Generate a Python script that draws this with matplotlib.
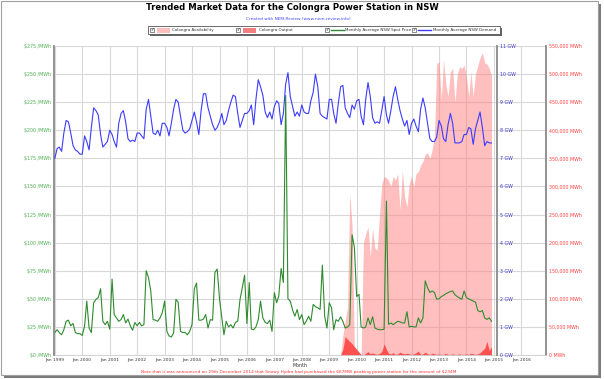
import matplotlib
matplotlib.use("Agg")
import matplotlib.pyplot as plt
import matplotlib.dates as mdates
from matplotlib.patches import Rectangle
from matplotlib.lines import Line2D
from matplotlib.ticker import FuncFormatter, MultipleLocator
import numpy as np
import pandas as pd

# monthly data, Jan 1999 .. Dec 2014
months = pd.date_range("1999-01-01", "2014-12-01", freq="MS")

demand_gw = [
    7.0, 7.35, 7.4, 7.25, 7.9, 8.35, 8.3, 7.9, 7.45, 7.3, 7.25, 7.15,
    7.15, 7.8, 7.6, 7.3, 8.1, 8.8, 8.7, 8.55, 7.85, 7.4, 7.5, 7.6,
    8.0, 7.85, 7.6, 7.4, 8.25, 8.6, 8.7, 8.3, 7.7, 7.6, 7.65, 7.6,
    7.9, 7.9, 7.8, 7.7, 8.75, 9.1, 8.5, 7.9, 7.85, 8.0, 7.8, 8.25,
    8.25, 8.1, 7.8, 8.25, 8.75, 9.1, 9.0, 8.5, 8.0, 7.9, 7.95, 8.05,
    8.35, 8.65, 8.3, 7.85, 8.7, 9.3, 9.3, 8.8, 8.5, 8.2, 8.0, 8.1,
    8.3, 8.6, 8.2, 8.35, 8.7, 9.0, 9.25, 9.2, 8.6, 8.1, 8.35, 8.6,
    8.6, 8.7, 8.9, 8.2, 9.1, 9.8, 9.55, 9.25, 8.65, 8.45, 8.65, 8.4,
    8.85, 9.05, 8.95, 8.2, 8.6, 9.65, 10.05, 9.2, 8.85, 8.5, 8.65, 8.5,
    8.9, 8.65, 8.6, 8.6, 9.05, 9.35, 10.0, 9.55, 8.6, 8.5, 8.45, 8.4,
    9.1, 9.1, 8.6, 8.25, 8.95, 9.55, 9.6, 8.8, 8.6, 8.45, 8.9, 8.75,
    9.05, 9.1, 8.5, 8.2, 9.1, 9.7, 9.2, 8.45, 8.25, 8.3, 8.25, 8.7,
    9.2, 8.55, 8.25, 8.7, 9.2, 9.55, 9.1, 8.7, 8.4, 8.15, 8.35, 7.85,
    8.25, 8.4, 8.15, 7.95, 8.75, 9.15, 8.8, 8.25, 7.7, 7.6, 7.6, 7.75,
    8.35, 8.15, 7.7, 7.6, 8.2, 8.6, 8.25, 7.55, 7.55, 7.55, 7.6, 7.85,
    7.85, 8.1, 8.05, 7.5, 8.05, 8.35, 8.65, 8.1, 7.45, 7.6, 7.55, 7.55,
]

spot_price = [
    20, 22.5, 20, 18, 22.5, 30, 31, 26, 28, 20, 19, 19,
    17.5, 25.5, 48, 24, 20, 46.5, 49.5, 51, 59, 30, 27, 30,
    23, 67.5, 36, 33, 30, 31.5, 36, 28.5, 32, 26, 22, 29,
    26, 29, 26, 27, 75, 69, 57, 31.5, 31, 30, 33, 37.5,
    48, 21, 17, 16, 19.5, 49.5, 47, 21, 20, 20, 18, 21,
    27, 59, 64, 31, 31, 32, 36, 24, 31.5, 31, 73.5, 76.5,
    50, 33, 18, 30, 25, 27, 24, 29, 30, 49.5, 60, 71,
    28, 64.5, 23, 22.5, 25, 31.5, 48, 33, 29, 28, 31, 21,
    55.5, 46.5, 52.5, 77, 64.5, 231, 50, 48, 40, 34.5, 40.5, 31.5,
    36, 27, 30, 34.5, 30, 45, 43, 42, 40.5, 80, 34.5, 24,
    46.5, 42, 22.5, 31.5, 30, 34, 30, 24, 25, 27, 107, 96,
    52, 54, 25, 24, 25, 33, 27, 34, 24, 23, 22.5, 22.5,
    23, 137, 27.3, 28.5, 27, 28.5, 30, 29.5, 28.5, 28.5, 38.5, 25,
    25.5, 25, 25, 33, 28.5, 33, 66, 60, 55.6, 57, 55.6, 49.7,
    50, 52, 53, 54.5, 55.5, 56.5, 57, 53.6, 52, 50.7, 49.7, 57,
    51, 50, 49, 48, 47, 39.6, 38.5, 39.6, 33, 31.7, 33, 30,
]

# Colongra (thousand MWh per month), no data before Jul 2009
availability_kmwh = [0] * 126 + [
    35, 60, 85, 288, 228, 15,
    5, 0, 0, 200, 216, 228, 175, 225, 190, 187, 250, 305,
    318, 315, 311, 300, 318, 311, 323, 258, 329, 282, 264, 305,
    318, 300, 323, 326, 338, 345, 357, 360, 350, 365, 389, 519,
    522, 454, 525, 483, 460, 504, 510, 450, 500, 513, 510, 516,
    495, 460, 504, 460, 500, 515, 529, 538, 520, 518, 510, 497,
]
output_kmwh = [0] * 126 + [
    10, 33, 28, 24, 20, 15,
    10, 5, 1, 0, 3, 6, 2, 4, 2, 1, 3, 6,
    20, 10, 3, 2, 4, 1, 2, 5, 3, 2, 3, 2,
    1, 2, 4, 7, 1, 2, 5, 2, 1, 3, 2, 1,
    2, 1, 1, 3, 1, 1, 2, 1, 1, 2, 1, 1,
    2, 1, 3, 2, 1, 2, 4, 8, 12, 24, 8, 15,
]

C_BLUE = "#3c3cff"
C_GREEN = "#2e8b2e"
C_PINK = "#ff8080"
C_RED = "#ff5050"
W, H = 604, 379


def fx(px):
    return px / W


def fy(py):
    return 1 - py / H


fig = plt.figure(figsize=(W / 100, H / 100), dpi=100)

# outer frame with drop shadow
fig.add_artist(Rectangle((fx(4), fy(378)), fx(597), 374 / H, transform=fig.transFigure,
                         facecolor="#7a7a7a", edgecolor="none", zorder=-20))
fig.add_artist(Rectangle((fx(0.5), fy(375)), fx(597), 374.5 / H, transform=fig.transFigure,
                         facecolor="white", edgecolor="#a0a0a0", lw=0.8, zorder=-19))

rect = [fx(54), fy(355), fx(492), 309 / H]
ax_mwh = fig.add_axes(rect)
ax = ax_mwh.twinx()
ax_gw = ax_mwh.twinx()
ax_mwh.set_zorder(1)
ax.set_zorder(2)
ax_gw.set_zorder(3)
ax.patch.set_visible(False)
ax_gw.patch.set_visible(False)

# left axis on the price twin
ax.yaxis.tick_left()
ax.yaxis.set_label_position("left")

ax_mwh.fill_between(months, availability_kmwh, color=C_PINK, alpha=0.5, lw=0)
ax_mwh.fill_between(months, output_kmwh, color=C_RED, lw=0)
ax.plot(months, spot_price, color=C_GREEN, lw=0.8)
ax_gw.plot(months, demand_gw, color=C_BLUE, lw=0.8)

ax.set_xlim(pd.Timestamp("1998-12-21"), pd.Timestamp("2016-11-25"))
ax.set_ylim(0, 275)
ax_gw.set_ylim(0, 11)
ax_mwh.set_ylim(0, 550)

ax_mwh.xaxis.set_major_locator(mdates.YearLocator())
ax_mwh.xaxis.set_major_formatter(mdates.DateFormatter("%b %Y"))
ax_mwh.yaxis.set_major_locator(MultipleLocator(50))
ax_mwh.grid(True, color="#d8d8d8", lw=0.8)
ax_mwh.set_axisbelow(True)

ax.yaxis.set_major_locator(MultipleLocator(25))
ax_gw.yaxis.set_major_locator(MultipleLocator(1))

ax.yaxis.set_major_formatter(FuncFormatter(lambda v, _: f"${v:.0f} /MWh"))
ax_gw.yaxis.set_major_formatter(FuncFormatter(lambda v, _: f"{v:.0f} GW"))
ax_mwh.yaxis.set_major_formatter(FuncFormatter(lambda v, _: f"{v * 1000:,.0f} MWh"))

ax_mwh.yaxis.tick_right()
ax_gw.spines["right"].set_position(("axes", 443 / 492))

ax.tick_params(axis="y", labelsize=3.4, labelcolor="#4caf50", length=0, pad=2)
ax_gw.tick_params(axis="y", labelsize=3.4, labelcolor="#3c3ccc", length=0, pad=2)
ax_mwh.tick_params(axis="y", labelsize=3.4, labelcolor="#ff4040", length=0, pad=2)
ax_mwh.tick_params(axis="x", labelsize=3.2, labelcolor="#333333", length=0, pad=2.5)
ax.tick_params(axis="x", length=0, labelbottom=False)
ax_gw.tick_params(axis="x", length=0, labelbottom=False)
ax_mwh.set_xlabel("Month", fontsize=3.4, color="#333333", labelpad=0.5)

for a in (ax, ax_gw, ax_mwh):
    for s in a.spines.values():
        s.set_visible(False)
ax.spines["left"].set_visible(True)
ax.spines["left"].set_color("#8a8a8a")
ax.spines["left"].set_linewidth(1.3)
for a in (ax_gw, ax_mwh):
    a.spines["right"].set_visible(True)
    a.spines["right"].set_color("#8a8a8a")
    a.spines["right"].set_linewidth(1.3)
ax_mwh.spines["bottom"].set_visible(True)
ax_mwh.spines["bottom"].set_color("#cccccc")
ax_mwh.spines["bottom"].set_linewidth(0.6)

# titles
fig.text(fx(292), fy(8), "Trended Market Data for the Colongra Power Station in NSW",
         ha="center", va="center", fontsize=6.1, fontweight="bold", color="black")
fig.text(fx(298), fy(19), "Created with NEM-Review (www.nem-review.info)",
         ha="center", va="center", fontsize=3.1, color="#4444ff")
fig.text(fx(299), fy(372.5),
         "Note that it was announced on 29th December 2014 that Snowy Hydro had purchased the "
         "667MW peaking power station for the amount of $234M",
         ha="center", va="center", fontsize=3.1, color="#ff3030")

# legend box
fig.add_artist(Rectangle((fx(149.5), fy(35.5)), fx(352), 8 / H, transform=fig.transFigure,
                         facecolor="#666666", edgecolor="none", zorder=5))
fig.add_artist(Rectangle((fx(148), fy(34)), fx(352), 8 / H, transform=fig.transFigure,
                         facecolor="white", edgecolor="#555555", lw=0.6, zorder=6))
legend_items = [
    (152, "patch", "#ffbfbf", 172, "Colongra Availability"),
    (238, "patch", "#f08080", 259, "Colongra Output"),
    (327, "line", C_GREEN, 345, "Monthly Average NSW Spot Price"),
    (414, "line", C_BLUE, 433, "Monthly Average NSW Demand"),
]
for cbx, kind, col, lx, label in legend_items:
    fig.add_artist(Rectangle((fx(cbx - 2), fy(32)), fx(4), 4 / H, transform=fig.transFigure,
                             facecolor="white", edgecolor="#333333", lw=0.4, zorder=7))
    fig.text(fx(cbx), fy(30), "\u2713", fontsize=3, ha="center", va="center", zorder=8)
    if kind == "patch":
        fig.add_artist(Rectangle((fx(cbx + 5), fy(32.5)), fx(13), 5 / H,
                                 transform=fig.transFigure, facecolor=col,
                                 edgecolor="none", zorder=7))
    else:
        fig.add_artist(Line2D([fx(cbx + 4), fx(cbx + 17)], [fy(30), fy(30)],
                              transform=fig.transFigure, color=col, lw=1, zorder=7))
    fig.text(fx(lx), fy(30), label, fontsize=2.9, ha="left", va="center",
             color="#333333", zorder=8)

fig.savefig("out.png", dpi=100)
